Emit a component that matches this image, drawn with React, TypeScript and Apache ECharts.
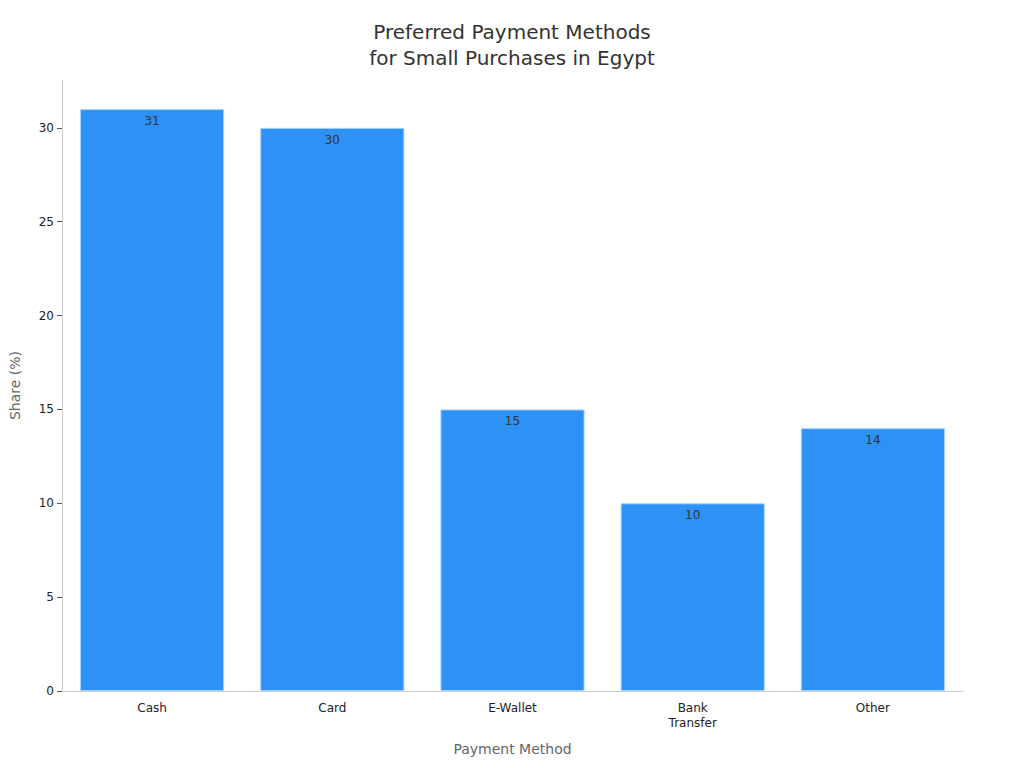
import { useEffect, useRef } from "react";
import * as echarts from "echarts";

const categories = ["Cash", "Card", "E-Wallet", "Bank\nTransfer", "Other"];
const shares = [31, 30, 15, 10, 14];
const yTicks = [0, 5, 10, 15, 20, 25, 30];

const FONT = "DejaVu Sans";

export default function App() {
  const chartRef = useRef<HTMLDivElement>(null);

  useEffect(() => {
    if (!chartRef.current) return;
    document.body.style.margin = "0";
    const chart = echarts.init(chartRef.current, undefined, { renderer: "svg" });

    const option: echarts.EChartsOption = {
      animation: false,
      backgroundColor: "#ffffff",
      textStyle: { fontFamily: FONT },
      title: {
        text: "Preferred Payment Methods\nfor Small Purchases in Egypt",
        left: "center",
        top: 14,
        textStyle: {
          fontFamily: FONT,
          fontSize: 20,
          fontWeight: "normal",
          color: "#333333",
          lineHeight: 26,
        },
      },
      grid: { left: 57, right: 61, top: 80, bottom: 77, containLabel: false },
      xAxis: {
        type: "category",
        data: categories,
        name: "Payment Method",
        nameLocation: "middle",
        nameGap: 51,
        nameTextStyle: { fontFamily: FONT, fontSize: 14, color: "#666666", verticalAlign: "top" },
        axisLine: { lineStyle: { color: "#cccccc" } },
        axisTick: { alignWithLabel: true, length: 4, lineStyle: { color: "#555555" } },
        axisLabel: { fontFamily: FONT, fontSize: 12, color: "#222222", margin: 9, lineHeight: 15 },
      },
      yAxis: {
        type: "value",
        min: 0,
        max: 32.55,
        interval: 5,
        name: "Share (%)",
        nameLocation: "middle",
        nameGap: 40,
        nameTextStyle: { fontFamily: FONT, fontSize: 14, color: "#666666" },
        axisLine: { show: true, lineStyle: { color: "#cccccc" } },
        axisTick: { show: true, length: 5, customValues: yTicks, lineStyle: { color: "#555555" } },
        axisLabel: {
          fontFamily: FONT,
          fontSize: 12,
          color: "#222222",
          margin: 8,
          customValues: yTicks,
        },
        splitLine: { show: false },
      },
      series: [
        {
          type: "bar",
          data: shares,
          barCategoryGap: "20%",
          itemStyle: {
            color: "#2e91f5",
            borderColor: "#a8d2fb",
            borderWidth: 1,
          },
          label: {
            show: true,
            position: "insideTop",
            distance: 6,
            fontFamily: FONT,
            fontSize: 12,
            color: "#333333",
          },
        },
      ],
    };

    chart.setOption(option);
    return () => {
      chart.dispose();
    };
  }, []);

  return <div ref={chartRef} style={{ width: 1024, height: 768 }} />;
}
